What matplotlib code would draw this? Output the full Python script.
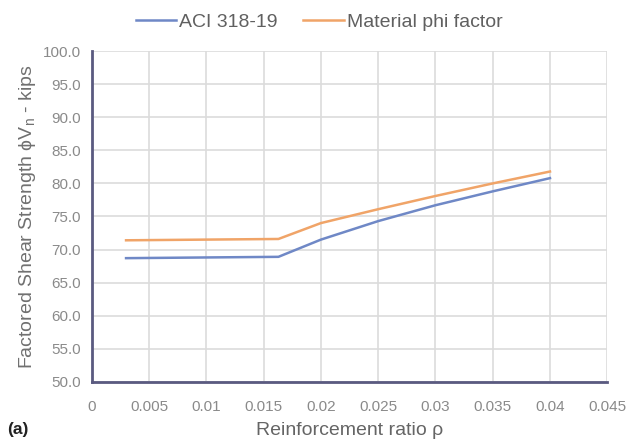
import numpy as np
import matplotlib
matplotlib.use("Agg")
import matplotlib.pyplot as plt

plt.rcParams['font.family'] = ['Liberation Sans', 'DejaVu Sans']

# reinforcement ratio and factored shear strength (kips)
rho = [0.003, 0.0163, 0.02, 0.025, 0.03, 0.035, 0.04]
aci = [68.7, 68.9, 71.5, 74.3, 76.7, 78.8, 80.8]
material_phi = [71.4, 71.6, 74.0, 76.1, 78.1, 80.0, 81.8]

xticks = [0, 0.005, 0.01, 0.015, 0.02, 0.025, 0.03, 0.035, 0.04, 0.045]
xticklabels = ['0', '0.005', '0.01', '0.015', '0.02', '0.025', '0.03', '0.035', '0.04', '0.045']
yticks = np.arange(50, 100.1, 5)

fig = plt.figure(figsize=(6.28, 4.45), dpi=100)
ax = fig.add_axes([0.146, 0.142, 0.821, 0.743])

ax.plot(rho, aci, color='#6f88c6', lw=1.8, label='ACI 318-19')
ax.plot(rho, material_phi, color='#f0a468', lw=1.8, label='Material phi factor')

ax.set_xlim(0, 0.045)
ax.set_ylim(50, 100)
ax.set_xticks(xticks)
ax.set_xticklabels(xticklabels)
ax.set_yticks(yticks)
ax.set_yticklabels([f'{v:.1f}' for v in yticks])
ax.tick_params(length=0, labelsize=11, colors='#8a8a8a')
ax.tick_params(axis='x', pad=13)
ax.tick_params(axis='y', pad=8)

ax.grid(True, color='#dcdcdc', lw=1.2)
ax.set_axisbelow(True)
for s in ['top', 'right']:
    ax.spines[s].set_visible(False)
for s in ['left', 'bottom']:
    ax.spines[s].set_color('#5a5a80')
    ax.spines[s].set_linewidth(2)

ax.set_xlabel('Reinforcement ratio ρ', fontsize=14, color='#656565', labelpad=6)
ax.set_ylabel('Factored Shear Strength ϕV$_\\mathregular{n}$ - kips', fontsize=14,
              color='#707070', labelpad=3)

fig.legend(loc='upper center', bbox_to_anchor=(0.508, 1.01), ncol=2, frameon=False,
           fontsize=14, handlelength=2.1, handletextpad=0.15, columnspacing=1.3,
           labelcolor='#606060')

fig.text(0.012, 0.025, '(a)', fontsize=12.5, fontweight='bold', color='#222222')

fig.savefig('out.png', dpi=100)
